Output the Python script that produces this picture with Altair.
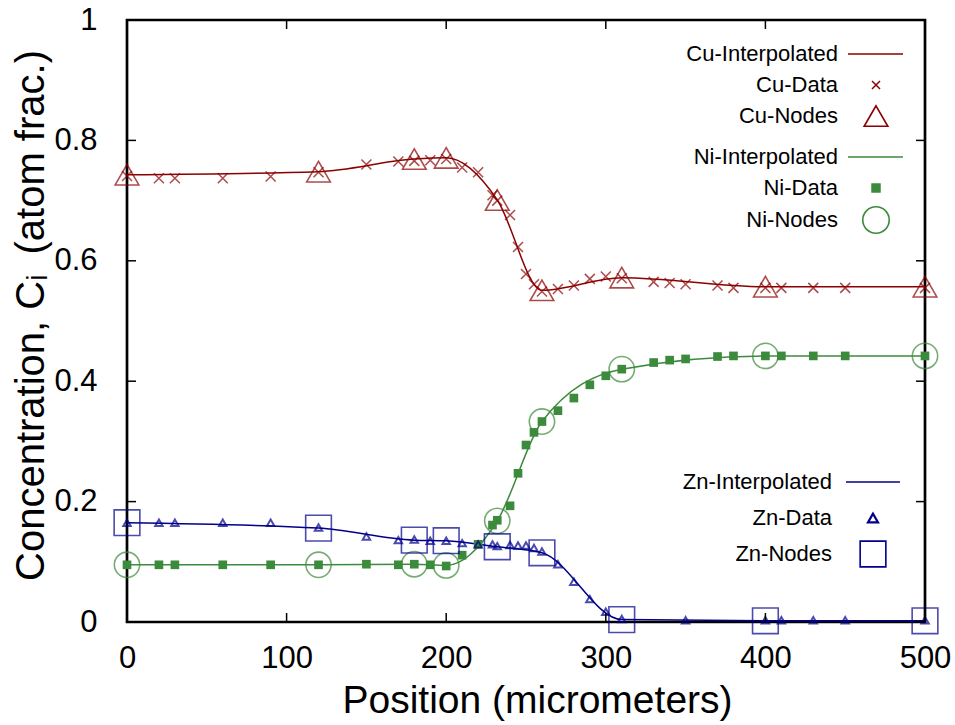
import altair as alt
import pandas as pd

# Measured composition profile (atom fraction) along the diffusion couple
position = [0, 20, 30, 60, 90, 120, 150, 170, 180, 190, 200, 210, 220, 229, 232,
            240, 245, 250, 255, 260, 270, 280, 290, 300, 310, 330, 340, 350, 370,
            380, 400, 410, 430, 450, 500]
cu_data = [0.741, 0.737, 0.737, 0.737, 0.740, 0.747, 0.760, 0.765, 0.766, 0.767,
           0.769, 0.755, 0.747, 0.709, 0.700, 0.676, 0.623, 0.578, 0.561, 0.549,
           0.553, 0.559, 0.570, 0.574, 0.571, 0.565, 0.563, 0.561, 0.559, 0.555,
           0.555, 0.555, 0.555, 0.555, 0.555]
ni_data = [0.095, 0.095, 0.095, 0.095, 0.095, 0.095, 0.096, 0.095, 0.096, 0.095,
           0.093, 0.111, 0.129, 0.161, 0.169, 0.193, 0.247, 0.294, 0.315, 0.333,
           0.351, 0.372, 0.394, 0.409, 0.420, 0.431, 0.435, 0.437, 0.441, 0.442,
           0.442, 0.442, 0.442, 0.442, 0.442]
zn_data = [0.165, 0.165, 0.165, 0.165, 0.165, 0.157, 0.142, 0.136, 0.137, 0.135,
           0.135, 0.131, 0.129, 0.129, 0.126, 0.128, 0.127, 0.127, 0.123, 0.117,
           0.096, 0.067, 0.038, 0.017, 0.005, None, None, 0.003, None, None,
           0.003, 0.003, 0.003, 0.003, 0.003]

# Interpolation nodes
node_position = [0, 120, 180, 200, 232, 260, 310, 400, 500]
cu_nodes = [0.743, 0.748, 0.769, 0.771, 0.701, 0.551, 0.572, 0.557, 0.557]
ni_nodes = [0.095, 0.095, 0.096, 0.094, 0.168, 0.333, 0.420, 0.442, 0.442]
zn_nodes = [0.165, 0.156, 0.136, 0.135, 0.125, 0.115, 0.004, 0.002, 0.002]

x_ticks = [0, 100, 200, 300, 400, 500]
y_ticks = [0, 0.2, 0.4, 0.6, 0.8, 1]

CU, NI, ZN = "#8B0000", "#3C8A3C", "#00008B"
W, H = 798, 602
FONT = "Liberation Sans"
CROSS = "M-1,-1L1,1M-1,1L1,-1"

x_axis = alt.Axis(values=x_ticks, ticks=False, tickSize=0, domain=False, grid=False,
                  labelFontSize=31, labelPadding=21, labelColor="black", labelFlush=False,
                  title="Position (micrometers)", titleFontSize=39, titleFontWeight="normal",
                  titleColor="black", titleX=410, titleY=90, titleBaseline="alphabetic",
                  titleAlign="center")
y_axis = alt.Axis(values=y_ticks, format=".1~f", ticks=False, tickSize=0, domain=False,
                  grid=False, labelFontSize=31, labelPadding=30, labelColor="black",
                  labelFlush=False,
                  title="Concentration, C\u1d62\u2002(atom frac.)", titleFontSize=40,
                  titleFontWeight="normal", titleColor="black", titleAngle=270,
                  titleX=-84, titleY=295, titleBaseline="alphabetic", titleAlign="center")

xs = alt.Scale(domain=[0, 500], nice=False, zero=False)
ys = alt.Scale(domain=[0, 1], nice=False, zero=False)
X = alt.X("x:Q", scale=xs, axis=x_axis)
Y = alt.Y("y:Q", scale=ys, axis=y_axis)


def frame(xv, yv):
    df = pd.DataFrame({"x": xv, "y": yv})
    return df.dropna()


layers = []

# interpolated curves through the nodes
for nodes, col in [(cu_nodes, CU), (ni_nodes, NI), (zn_nodes, ZN)]:
    layers.append(alt.Chart(frame(node_position, nodes)).mark_line(
        interpolate="monotone", color=col, strokeWidth=1.5).encode(x=X, y=Y))

# measured data
layers.append(alt.Chart(frame(position, cu_data)).mark_point(
    shape=CROSS, size=100, filled=False, color=CU, strokeWidth=1.5).encode(x=X, y=Y))
layers.append(alt.Chart(frame(position, ni_data)).mark_point(
    shape="square", size=75, filled=True, color=NI, opacity=1).encode(x=X, y=Y))
layers.append(alt.Chart(frame(position, zn_data)).mark_point(
    shape="triangle-up", size=55, filled=False, color=ZN, strokeWidth=2).encode(x=X, y=Y))

# nodes
layers.append(alt.Chart(frame(node_position, cu_nodes)).mark_point(
    shape="triangle-up", size=560, filled=False, color=CU, strokeWidth=1.6).encode(x=X, y=Y))
layers.append(alt.Chart(frame(node_position, ni_nodes)).mark_point(
    shape="circle", size=640, filled=False, color=NI, strokeWidth=1.6).encode(x=X, y=Y))
layers.append(alt.Chart(frame(node_position, zn_nodes)).mark_point(
    shape="square", size=660, filled=False, color=ZN, strokeWidth=1.6).encode(x=X, y=Y))

# inward tick marks on all four sides of the frame
TL = 9
xt = pd.DataFrame({"x": x_ticks})
yt = pd.DataFrame({"y": y_ticks})
layers.append(alt.Chart(xt).mark_rule(color="black", strokeWidth=1.5).encode(
    x=X, y=alt.value(H - TL), y2=alt.value(H)))
layers.append(alt.Chart(xt).mark_rule(color="black", strokeWidth=1.5).encode(
    x=X, y=alt.value(0), y2=alt.value(TL)))
layers.append(alt.Chart(yt).mark_rule(color="black", strokeWidth=1.5).encode(
    y=Y, x=alt.value(0), x2=alt.value(TL)))
layers.append(alt.Chart(yt).mark_rule(color="black", strokeWidth=1.5).encode(
    y=Y, x=alt.value(W - TL), x2=alt.value(W)))


# key entries: label on the left, sample on the right
def key_label(label, tx, ty):
    return alt.Chart(pd.DataFrame({"label": [label]})).mark_text(
        align="right", baseline="middle", fontSize=22, color="black", font=FONT
    ).encode(x=alt.value(tx), y=alt.value(ty), text="label:N")


def key_line(col, x1, x2, ty):
    return alt.Chart(pd.DataFrame({"k": [0]})).mark_rule(color=col, strokeWidth=1.5).encode(
        x=alt.value(x1), x2=alt.value(x2), y=alt.value(ty))


def key_symbol(shape, size, filled, col, sx, ty, sw=1.6):
    return alt.Chart(pd.DataFrame({"k": [0]})).mark_point(
        shape=shape, size=size, filled=filled, color=col, strokeWidth=sw, opacity=1
    ).encode(x=alt.value(sx), y=alt.value(ty))


top_rows = [34, 65, 96, 137, 168, 200]
tx, lx1, lx2, sx = 711, 721, 776, 749
layers += [
    key_label("Cu-Interpolated", tx, top_rows[0]), key_line(CU, lx1, lx2, top_rows[0]),
    key_label("Cu-Data", tx, top_rows[1]), key_symbol(CROSS, 64, False, CU, sx, top_rows[1], 1.5),
    key_label("Cu-Nodes", tx, top_rows[2]), key_symbol("triangle-up", 560, False, CU, sx, top_rows[2]),
    key_label("Ni-Interpolated", tx, top_rows[3]), key_line(NI, lx1, lx2, top_rows[3]),
    key_label("Ni-Data", tx, top_rows[4]), key_symbol("square", 90, True, NI, sx, top_rows[4]),
    key_label("Ni-Nodes", tx, top_rows[5]), key_symbol("circle", 700, False, NI, sx, top_rows[5]),
]
bot_rows = [462, 498, 534]
tx2, lx3, lx4, sx2 = 705, 719, 773, 746
layers += [
    key_label("Zn-Interpolated", tx2, bot_rows[0]), key_line(ZN, lx3, lx4, bot_rows[0]),
    key_label("Zn-Data", tx2, bot_rows[1]), key_symbol("triangle-up", 100, False, ZN, sx2, bot_rows[1], 2.2),
    key_label("Zn-Nodes", tx2, bot_rows[2]), key_symbol("square", 660, False, ZN, sx2, bot_rows[2]),
]

chart = alt.layer(*layers).properties(
    width=W, height=H,
    padding={"left": 127, "top": 20, "right": 30, "bottom": 103},
    autosize=alt.AutoSizeParams(type="none"),
    background="white",
).configure(font=FONT).configure_view(stroke="black", strokeWidth=2.7)

chart.save("out.html", embed_options={"renderer": "svg", "actions": False})
